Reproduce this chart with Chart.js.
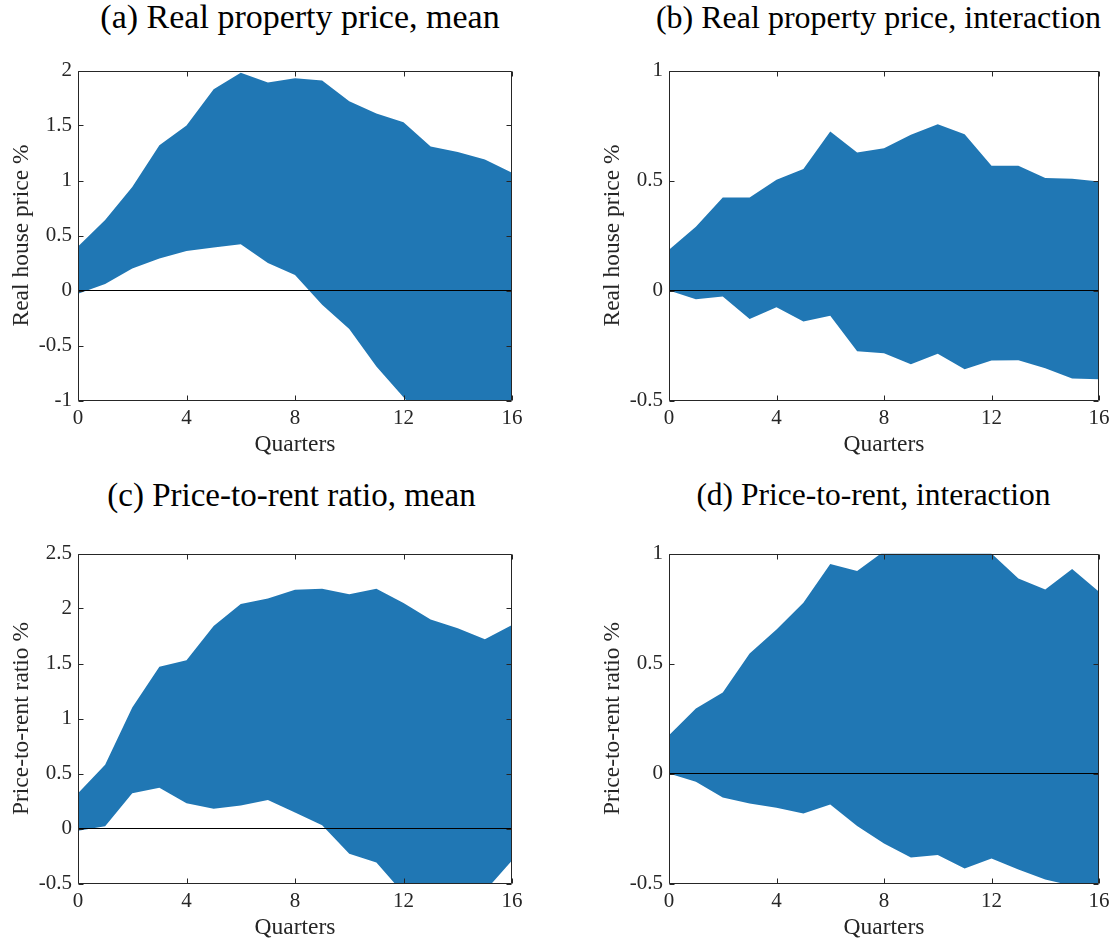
<!DOCTYPE html>
<html>
<head>
<meta charset="utf-8">
<script src="https://cdn.jsdelivr.net/npm/chart.js@4.4.1/dist/chart.umd.min.js"></script>
<style>
  body { margin: 0; background: #fff; width: 1119px; height: 943px; overflow: hidden; position: relative; }
  .titulo { position: absolute; width: 600px; font-family: "Liberation Serif", "Times New Roman", "DejaVu Serif", serif; line-height: 36px; color: #000; text-align: center; white-space: nowrap; }
  canvas { position: absolute; }
</style>
</head>
<body>
<div class="titulo" id="t-a">(a) Real property price, mean</div>
<div class="titulo" id="t-b">(b) Real property price, interaction</div>
<div class="titulo" id="t-c">(c) Price-to-rent ratio, mean</div>
<div class="titulo" id="t-d">(d) Price-to-rent, interaction</div>
<canvas id="g-a" width="528" height="420"></canvas>
<canvas id="g-b" width="528" height="420"></canvas>
<canvas id="g-c" width="528" height="420"></canvas>
<canvas id="g-d" width="528" height="420"></canvas>
<script>
// horizonte en trimestres
const trimestres = [0, 1, 2, 3, 4, 5, 6, 7, 8, 9, 10, 11, 12, 13, 14, 15, 16];
const ticksX = [0, 4, 8, 12, 16];

// (a) precio real de la vivienda, media
const inferiorA = [-0.03, 0.06, 0.2, 0.29, 0.36, 0.39, 0.42, 0.25, 0.14, -0.13, -0.35, -0.69, -0.97, -1.25, -1.45, -1.6, -1.75];
const superiorA = [0.4, 0.64, 0.94, 1.32, 1.5, 1.83, 1.98, 1.89, 1.93, 1.91, 1.72, 1.61, 1.53, 1.31, 1.26, 1.19, 1.07];
const ticksYA = [-1, -0.5, 0, 0.5, 1, 1.5, 2];

// (b) precio real de la vivienda, interacción
const inferiorB = [0.0, -0.04, -0.027, -0.13, -0.076, -0.141, -0.115, -0.276, -0.285, -0.335, -0.288, -0.358, -0.318, -0.317, -0.353, -0.4, -0.403];
const superiorB = [0.185, 0.29, 0.423, 0.423, 0.503, 0.552, 0.723, 0.627, 0.647, 0.708, 0.756, 0.71, 0.567, 0.567, 0.511, 0.508, 0.495];
const ticksYB = [-0.5, 0, 0.5, 1];

// (c) ratio precio-alquiler, media
const inferiorC = [-0.02, 0.02, 0.32, 0.37, 0.23, 0.18, 0.21, 0.26, 0.145, 0.03, -0.23, -0.31, -0.59, -0.7, -0.68, -0.57, -0.29];
const superiorC = [0.32, 0.58, 1.1, 1.47, 1.53, 1.84, 2.04, 2.09, 2.17, 2.18, 2.13, 2.18, 2.05, 1.9, 1.82, 1.72, 1.85];
const ticksYC = [-0.5, 0, 0.5, 1, 1.5, 2, 2.5];

// (d) ratio precio-alquiler, interacción
const inferiorD = [0.0, -0.038, -0.109, -0.136, -0.156, -0.182, -0.141, -0.239, -0.318, -0.382, -0.371, -0.432, -0.386, -0.436, -0.482, -0.51, -0.53];
const superiorD = [0.174, 0.295, 0.368, 0.545, 0.655, 0.776, 0.952, 0.921, 1.01, 1.08, 1.12, 1.08, 1.0, 0.886, 0.836, 0.93, 0.826];
const ticksYD = [-0.5, 0, 0.5, 1];

const AZUL = '#2077b4';
const EJE = '#262626';
const fuente = '"Liberation Serif", "Times New Roman", "DejaVu Serif", serif';

// marco completo con marcas hacia dentro en los cuatro lados
const marco = {
  id: 'marco',
  afterDatasetsDraw(chart) {
    const { ctx, chartArea: a, scales: { x, y } } = chart;
    const l = Math.round(a.left) + 0.5, r = Math.round(a.right) - 0.5;
    const t = Math.round(a.top) + 0.5, b = Math.round(a.bottom) - 0.5;
    const largo = 5;
    ctx.save();
    ctx.strokeStyle = EJE;
    ctx.lineWidth = 1;
    ctx.beginPath();
    ctx.rect(l, t, r - l, b - t);
    x.ticks.forEach(tk => {
      const px = Math.round(x.getPixelForValue(tk.value)) + 0.5;
      ctx.moveTo(px, b); ctx.lineTo(px, b - largo);
      ctx.moveTo(px, t); ctx.lineTo(px, t + largo);
    });
    y.ticks.forEach(tk => {
      const py = Math.round(y.getPixelForValue(tk.value)) + 0.5;
      ctx.moveTo(l, py); ctx.lineTo(l + largo, py);
      ctx.moveTo(r, py); ctx.lineTo(r - largo, py);
    });
    ctx.stroke();
    ctx.restore();
  }
};

function crearPanel(id, inferior, superior, ticksY, etiquetaY, anchoPlot) {
  const canvas = document.getElementById(id);
  const ctx = canvas.getContext('2d');
  const puntos = arr => arr.map((v, i) => ({ x: trimestres[i], y: v }));
  return new Chart(ctx, {
    type: 'line',
    data: {
      datasets: [
        {
          data: [{ x: 0, y: 0 }, { x: 16, y: 0 }],
          borderColor: '#000',
          borderWidth: 1,
          pointRadius: 0,
          fill: false
        },
        {
          data: puntos(inferior),
          borderWidth: 0,
          borderColor: 'rgba(0,0,0,0)',
          pointRadius: 0,
          fill: false
        },
        {
          data: puntos(superior),
          borderWidth: 0,
          borderColor: 'rgba(0,0,0,0)',
          backgroundColor: AZUL,
          pointRadius: 0,
          fill: 1
        }
      ]
    },
    options: {
      responsive: false,
      animation: false,
      devicePixelRatio: 1,
      layout: { padding: { top: 20.5, right: 528 - 78 - anchoPlot, bottom: 0, left: 0 } },
      plugins: { legend: { display: false }, tooltip: { enabled: false } },
      elements: { line: { tension: 0 } },
      scales: {
        x: {
          type: 'linear',
          min: 0,
          max: 16,
          afterBuildTicks: s => { s.ticks = ticksX.map(v => ({ value: v })); },
          afterFit: s => { s.height = 69.5; },
          grid: { display: false, drawTicks: false },
          border: { display: false },
          ticks: { padding: 5, color: EJE, font: { family: fuente, size: 21 }, maxRotation: 0 },
          title: { display: true, text: 'Quarters', color: EJE, font: { family: fuente, size: 23.5 }, padding: { top: 0, bottom: 11 } }
        },
        y: {
          type: 'linear',
          min: ticksY[0],
          max: ticksY[ticksY.length - 1],
          afterBuildTicks: s => { s.ticks = ticksY.map(v => ({ value: v })); },
          afterFit: s => { s.width = 78; },
          grid: { display: false, drawTicks: false },
          border: { display: false },
          ticks: { padding: 6, color: EJE, font: { family: fuente, size: 21 }, callback: v => String(v) },
          title: { display: true, text: etiquetaY, color: EJE, font: { family: fuente, size: 23.5 }, padding: { top: 8, bottom: 0 } }
        }
      }
    },
    plugins: [marco]
  });
}

function colocarLienzo(id, izq, arriba) {
  const c = document.getElementById(id);
  c.style.left = izq + 'px';
  c.style.top = (arriba - 20.5) + 'px';
}

function colocarTitulo(id, centro, arriba, tam) {
  const t = document.getElementById(id);
  t.style.left = (centro - 300) + 'px';
  t.style.top = arriba + 'px';
  t.style.fontSize = tam + 'px';
}

colocarLienzo('g-a', 0, 70.7);
colocarLienzo('g-b', 591, 70.7);
colocarLienzo('g-c', 0, 553.3);
colocarLienzo('g-d', 591, 553.3);

colocarTitulo('t-a', 300, -1, 34);
colocarTitulo('t-b', 878.5, -1, 32);
colocarTitulo('t-c', 291.5, 477, 33);
colocarTitulo('t-d', 873.5, 477, 31.5);

crearPanel('g-a', inferiorA, superiorA, ticksYA, 'Real house price %', 434);
crearPanel('g-b', inferiorB, superiorB, ticksYB, 'Real house price %', 430);
crearPanel('g-c', inferiorC, superiorC, ticksYC, 'Price-to-rent ratio %', 434);
crearPanel('g-d', inferiorD, superiorD, ticksYD, 'Price-to-rent ratio %', 430);
</script>
</body>
</html>
